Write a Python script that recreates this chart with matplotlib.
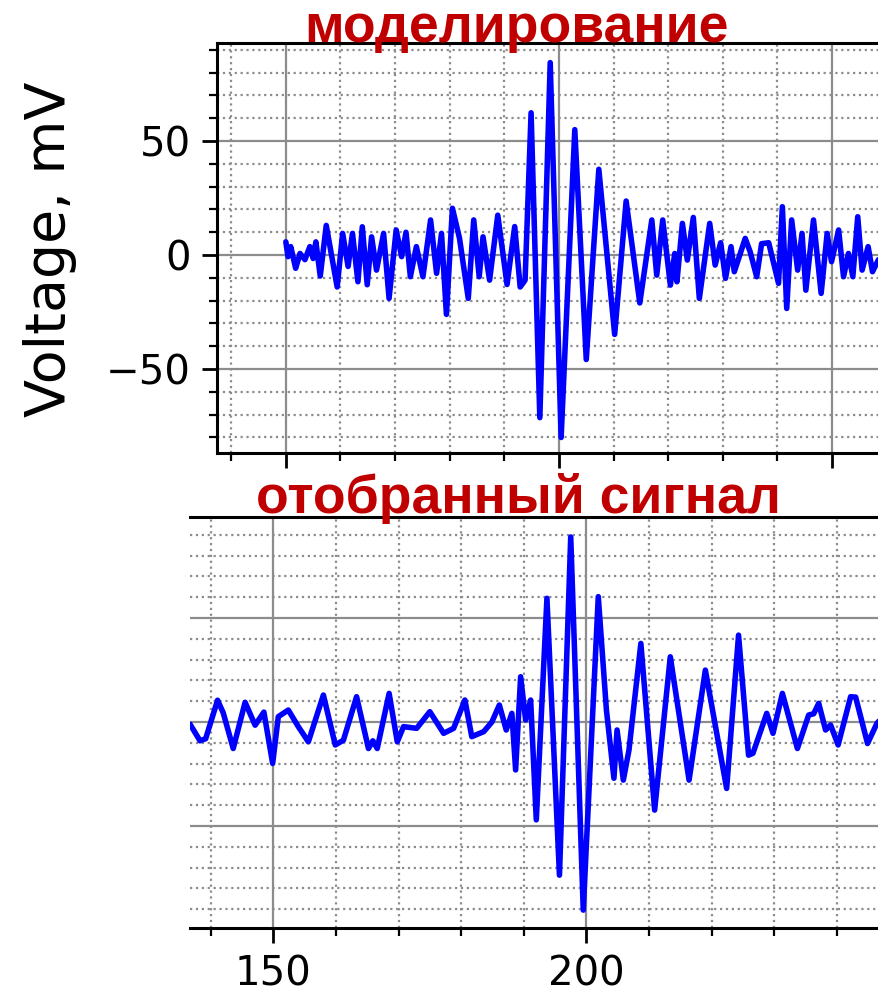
import matplotlib
matplotlib.use('agg')
import matplotlib.pyplot as plt
from matplotlib.ticker import MultipleLocator, FixedLocator

# modelled signal (top)
top_t = [150, 150.4, 150.9, 151.8, 152.6, 153.5, 154.4, 155, 155.5, 156.3, 157.4, 159.4,
         160.4, 161.4, 162.2, 163.2, 164, 164.9, 165.7, 166.6, 167.9, 168.9, 170.2, 171.2,
         172, 172.8, 173.9, 175.1, 176.5, 177.6, 178.5, 179.4, 180.5, 181.8, 183.4, 184.4,
         185.4, 186.1, 187.3, 188.8, 190.5, 191.9, 192.9, 193.8, 194.9, 196.5, 198.4, 200.4,
         202.9, 205, 207.3, 210.2, 212.3, 214.8, 217, 217.9, 219, 220.4, 221.2, 221.6,
         222.6, 223.5, 224.6, 225.7, 227.6, 228.6, 229.6, 230.5, 231.5, 232.1, 234.1, 235,
         236.2, 237.1, 238.4, 240.2, 240.9, 241.7, 242.6, 243.7, 244.5, 245.2, 246.6, 248,
         249.1, 249.9, 251.2, 252.1, 253, 253.8, 254.7, 255.5, 256.6, 257.4, 258.5]
top_v = [5.8, -0.7, 3.7, -5.8, 0.7, -2, 3.7, -1.5, 5.8, -9.2, 13, -14,
         9.5, -5, 9.5, -11.7, 12.4, -13, 8, -6.6, 9.5, -19, 11, -0.7,
         10, -9.5, 3.7, -9.5, 15.4, -8, 9.5, -26, 20.5, 7.3, -19, 15.4,
         -9.5, 8, -11, 17.5, -12.9, 12.5, -14, -11, 62.4, -71.3, 84.4, -80,
         55, -45.8, 37.6, -34.8, 23.7, -21, 15.4, -8.8, 15.4, -13.2, 0.7, -11.7,
         13.9, -2.2, 16.5, -19, 13.9, -4.4, 5.4, -10.2, 3.7, -7.3, 7.3, 1.5,
         -9.5, 5, 5.4, -12.4, 21.2, -23.4, 15.4, -6.6, 9.5, -15.4, 15.4, -16.8,
         9.5, -2.9, 11, -9.5, 0.7, -9.5, 16.8, -6.6, 3.7, -7.3, -2]

# selected (recorded) signal (bottom)
bot_t = [136.7, 138.3, 139.2, 141.1, 142, 143.6, 145.5, 147.1, 148.5, 149.9, 150.8, 152.4,
         154, 155.6, 158, 159.9, 161.2, 163.3, 165.2, 165.9, 166.6, 168.5, 169.8, 170.8,
         172.9, 175, 177.2, 178.8, 180.6, 181.7, 183.6, 184.9, 186.1, 187.2, 188.1, 188.7,
         189.5, 190.3, 191.1, 192, 193.7, 195.7, 197.5, 199.5, 201.9, 203.2, 204.4, 204.9,
         205.9, 206.8, 208.7, 210.9, 213.4, 216.4, 219, 222.4, 224.3, 225.9, 226.6, 228.8,
         229.8, 231.3, 233.7, 235.5, 236.3, 237.1, 238.2, 239, 240.2, 242.2, 243, 244.9,
         246.4, 247.5]
bot_v = [-1, -9, -8, 10.5, 4.5, -12.7, 9.5, -1.5, 4.8, -19.9, 2.6, 5.8,
         -2.2, -9.5, 13, -11, -8.7, 12.2, -12.7, -9, -12.7, 13.8, -9.5, -2.2,
         -3, 5, -5.4, -3, 10.6, -7, -4.6, 0, 8.2, -3.8, 4.2, -23,
         21.8, 1, 10.6, -47, 59.5, -73.6, 89, -90.4, 60.3, 5.8, -27, -3.8,
         -27.9, -13.5, 37.8, -42.3, 31.4, -27.9, 25, -31.9, 41.8, -15.9, -15, 4.2,
         -5.4, 13.8, -12.7, 3.4, 4, 9, -3.8, -1.4, -11, 12.2, 12, -10.3,
         -0.6, 3]
bot_xticks = [150, 200]

W, H = 879, 996
fig = plt.figure(figsize=(W / 100, H / 100), dpi=100)


def style(ax):
    ax.xaxis.set_major_locator(MultipleLocator(50))
    ax.xaxis.set_minor_locator(MultipleLocator(10))
    ax.yaxis.set_major_locator(MultipleLocator(50))
    ax.yaxis.set_minor_locator(MultipleLocator(10))
    ax.grid(which='major', color='#8c8c8c', linewidth=1.6)
    ax.grid(which='minor', color='#8c8c8c', linestyle=':', linewidth=1.6)
    ax.set_axisbelow(True)
    for s in ax.spines.values():
        s.set_linewidth(2.2)
    ax.tick_params(which='major', length=11, width=2, labelsize=29, pad=8)
    ax.tick_params(which='minor', length=6, width=1.6)


# top panel
ax1 = fig.add_axes([217 / W, 1 - 453 / H, 697 / W, 410 / H])
style(ax1)
ax1.plot(top_t, top_v, color='#0000ff', linewidth=4, solid_joinstyle='round',
         solid_capstyle='round')
ax1.set_xlim(137.4, 265)
ax1.set_ylim(-86.8, 93)
ax1.tick_params(axis='x', labelbottom=False)
fig.text(50 / W, 1 - 249 / H, 'Voltage, mV', rotation=90, ha='center', va='center', fontsize=40)

# bottom panel
ax2 = fig.add_axes([190 / W, 1 - 928 / H, 722 / W, 411 / H])
style(ax2)
ax2.xaxis.set_major_locator(FixedLocator(bot_xticks))
ax2.plot(bot_t, bot_v, color='#0000ff', linewidth=4, solid_joinstyle='round',
         solid_capstyle='round')
ax2.set_xlim(136.7, 252)
ax2.set_ylim(-99, 98.6)
ax2.spines['left'].set_visible(False)
ax2.tick_params(axis='y', left=False, labelleft=False, which='both')

fig.text(517 / W, 1 - 42 / H, 'моделирование', ha='center', va='baseline',
         fontsize=38.5, fontweight='bold', color='#c00000', family='Liberation Sans')
fig.text(518 / W, 1 - 513 / H, 'отобранный сигнал', ha='center', va='baseline',
         fontsize=38.5, fontweight='bold', color='#c00000', family='Liberation Sans')

fig.savefig('out.png', dpi=100)
